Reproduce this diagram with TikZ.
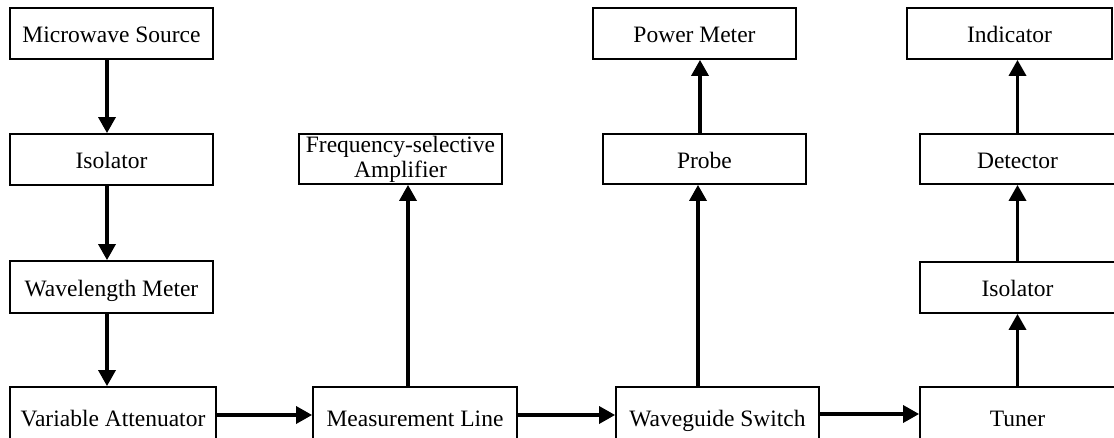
\documentclass[tikz,border=0pt]{standalone}
\usepackage{fontspec}
\setmainfont{Liberation Serif}
\usetikzlibrary{arrows.meta}
\begin{document}
\begin{tikzpicture}[x=1pt,y=-1pt,
  blk/.style={draw,line width=1.8pt,rectangle,inner sep=0pt,align=center,
    text height=19.5pt,text depth=0.5pt,
    font=\fontsize{23.5}{25}\selectfont},
  flow/.style={line width=3.4pt,-{Triangle[width=17pt,length=16pt]}}]
\useasboundingbox (0,0) rectangle (1114,438);
\clip (0,0) rectangle (1114,438);

% source branch
\node[blk,minimum width=203pt,minimum height=51pt] (ms)   at (111.5,33.5) {Microwave Source};
\node[blk,minimum width=203pt,minimum height=51pt] (iso1) at (111.5,159.5) {Isolator};
\node[blk,minimum width=203pt,minimum height=52pt] (wm)   at (111.5,287)  {Wavelength Meter};
\node[blk,minimum width=206pt,minimum height=60pt] (va)   at (113,417)    {Variable Attenuator};

% measurement line and amplifier
\node[blk,text height=,text depth=,minimum width=203pt,minimum height=50pt] (fsa) at (400.5,159) {Frequency-selective\\Amplifier};
\node[blk,minimum width=204pt,minimum height=60pt] (ml)   at (415,417)    {Measurement Line};

% waveguide switch branch
\node[blk,minimum width=203pt,minimum height=51pt] (pm)   at (694.5,33.5) {Power Meter};
\node[blk,minimum width=203pt,minimum height=50pt] (pr)   at (704.5,159)  {Probe};
\node[blk,minimum width=203pt,minimum height=60pt] (ws)   at (717.5,417)  {Waveguide Switch};

% tuner branch
\node[blk,minimum width=205pt,minimum height=51pt] (ind)  at (1009.5,33.5) {Indicator};
\node[blk,minimum width=195pt,minimum height=50pt] (det)  at (1017.5,159)  {Detector};
\node[blk,minimum width=195pt,minimum height=51pt] (iso2) at (1017.5,287.5) {Isolator};
\node[blk,minimum width=195pt,minimum height=60pt] (tu)   at (1017.5,417)  {Tuner};

% vertical chain on the left
\draw[flow] ([xshift=-4.5pt]ms.south)  -- ([xshift=-4.5pt]iso1.north);
\draw[flow] ([xshift=-4.5pt]iso1.south) -- ([xshift=-4.5pt]wm.north);
\draw[flow] ([xshift=-4.5pt]wm.south)  -- ([xshift=-6pt]va.north);

% horizontal main line
\draw[flow] ([yshift=2pt]va.east) -- ([yshift=2pt]ml.west);
\draw[flow] ([yshift=2pt]ml.east) -- ([yshift=2pt]ws.west);
\draw[flow] ([yshift=3pt]ws.east) -- ([yshift=3pt]tu.west);

% upward branches
\draw[flow] ([xshift=-7pt]ml.north) -- ([xshift=-7pt]ml.north |- fsa.south);
\draw[flow] ([xshift=-19.5pt]ws.north) -- ([xshift=-19.5pt]ws.north |- pr.south);
\draw[flow] ([xshift=-4.5pt]pr.north) -- ([xshift=-4.5pt]pr.north |- pm.south);
\draw[flow] (tu.north) -- (iso2.south);
\draw[flow] (iso2.north) -- (det.south);
\draw[flow] (det.north) -- (det.north |- ind.south);
\end{tikzpicture}
\end{document}
